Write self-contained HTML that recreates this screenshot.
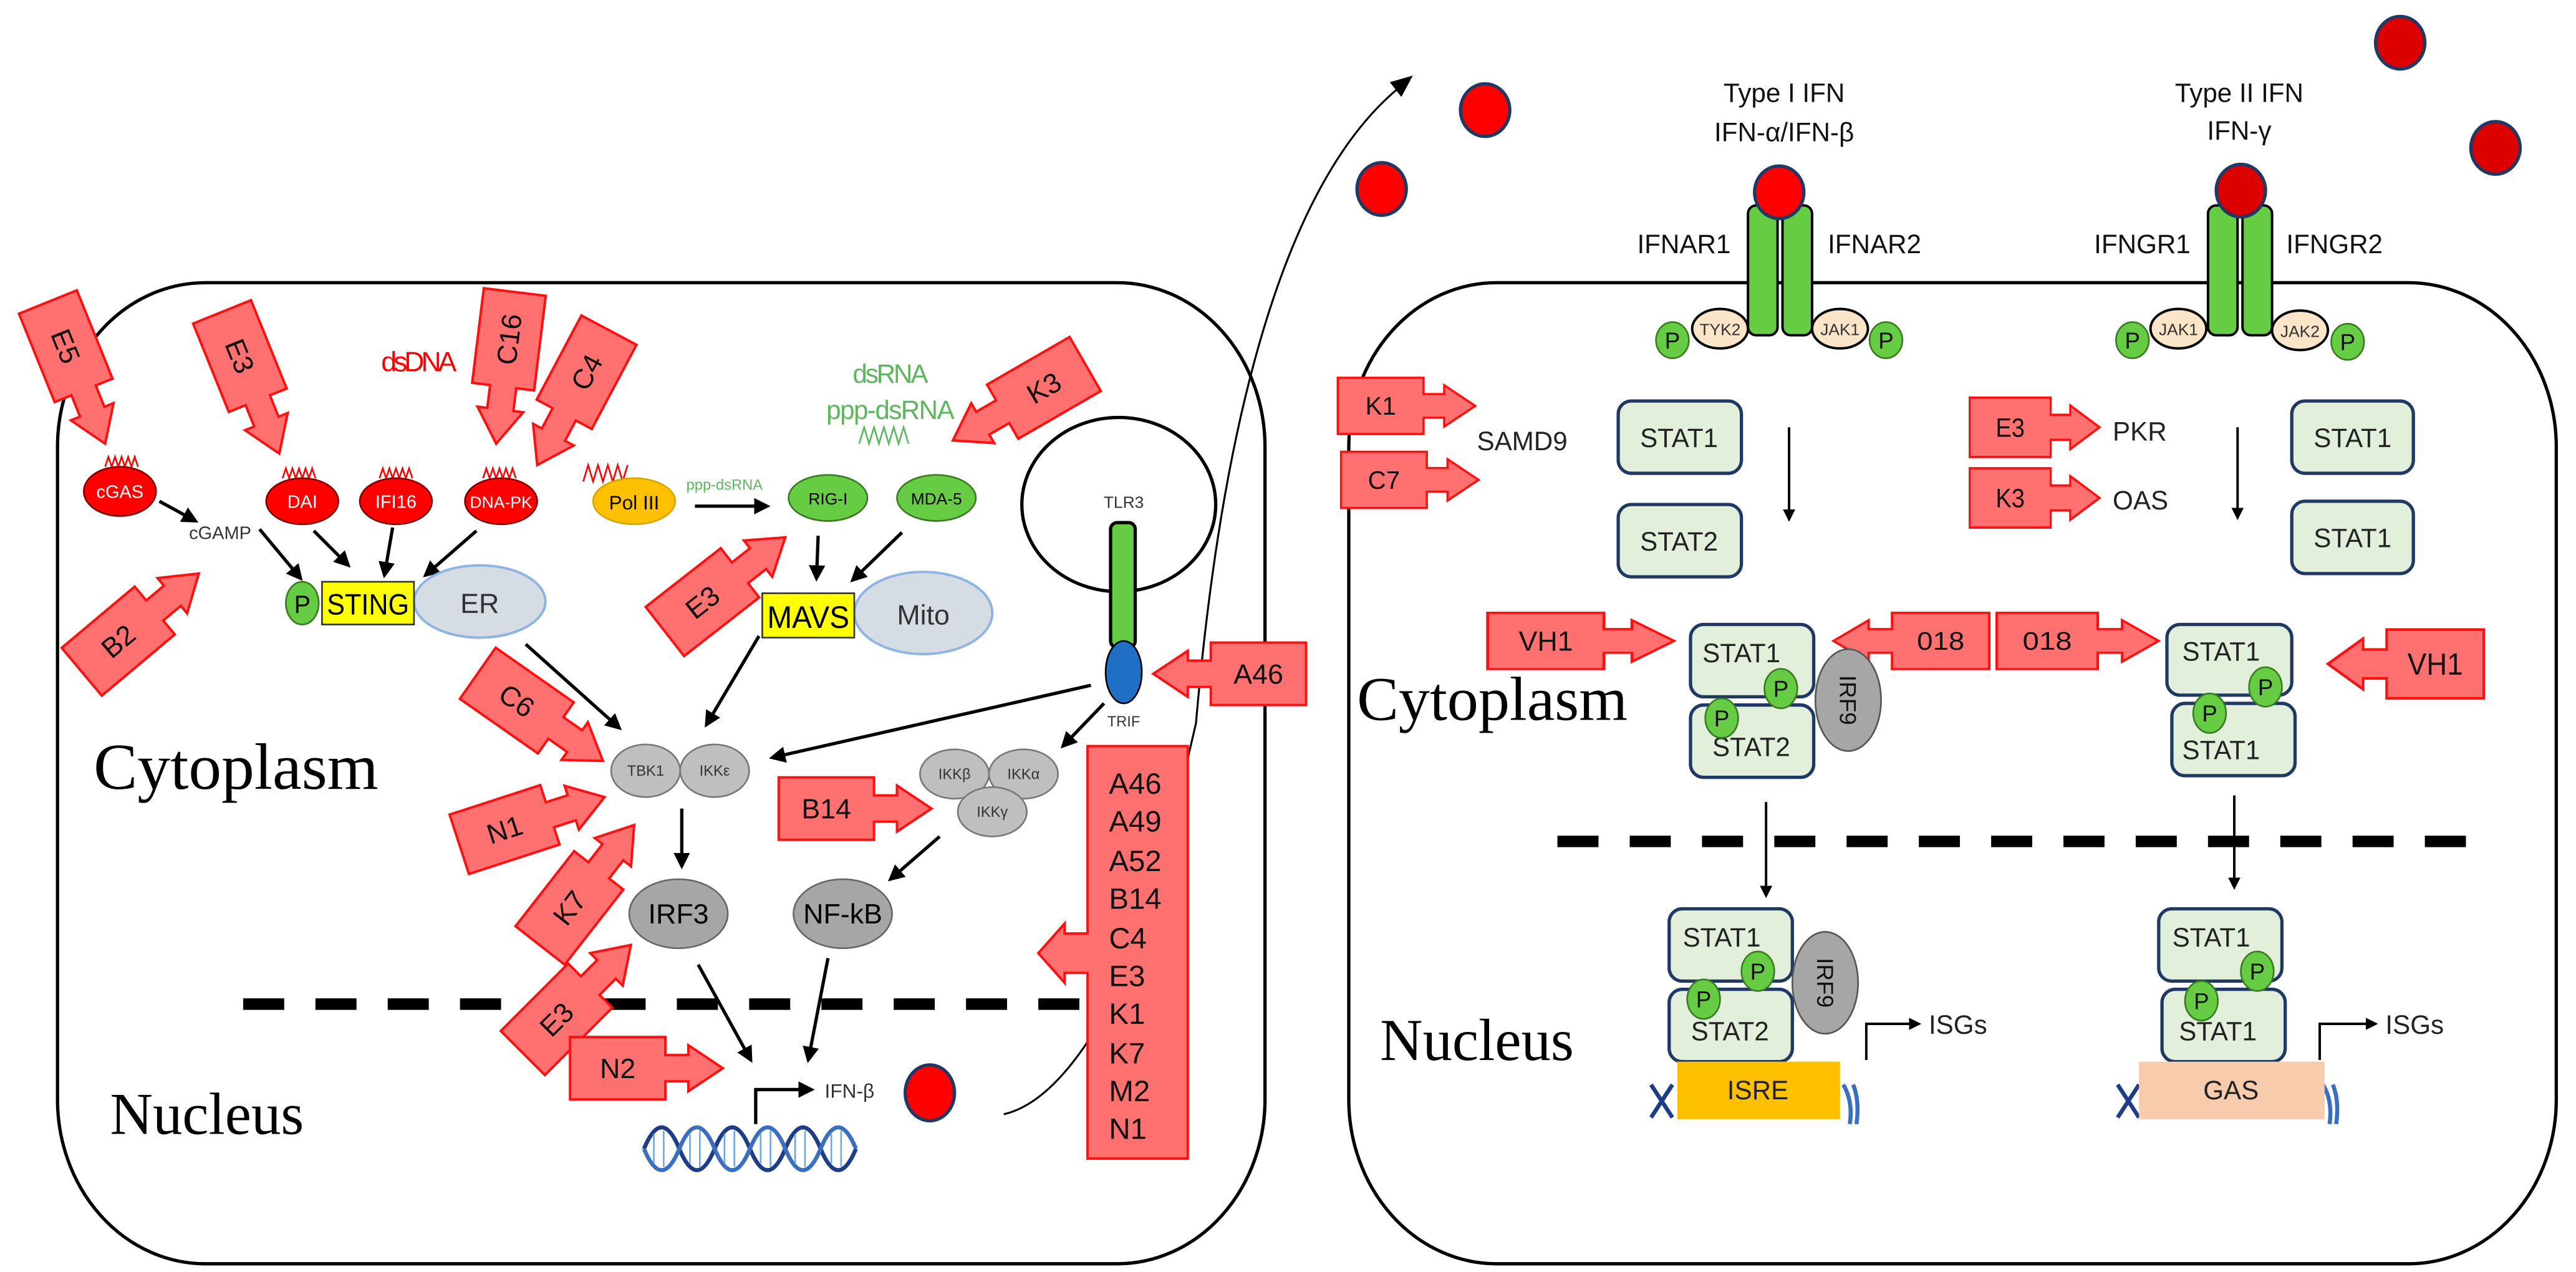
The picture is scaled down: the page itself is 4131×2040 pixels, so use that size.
<!DOCTYPE html>
<html><head><meta charset="utf-8"><style>
html,body{margin:0;padding:0;background:#fff;}
svg{display:block;}
text{font-family:"Liberation Sans Narrow","Liberation Sans",sans-serif;}
.serif{font-family:"Liberation Serif",serif;}
</style></head><body>
<svg width="4131" height="2040" viewBox="0 0 1568 774" preserveAspectRatio="none" xmlns="http://www.w3.org/2000/svg">
<defs>
<path id="ra" d="M-93,-19 H-35 V-8 H-21 V-14 L0,0 L-21,14 V8 H-35 V19 H-93 Z" fill="#ff7070" stroke="#ff1010" stroke-width="1.5"/>
<marker id="ah" viewBox="0 0 10 10" refX="8" refY="5" markerWidth="5" markerHeight="5" orient="auto"><path d="M0,0 L10,5 L0,10 Z" fill="#000"/></marker>
</defs>
<rect width="1568" height="774" fill="#fff"/>

<rect x="35" y="172" width="735" height="597" rx="90" ry="100" fill="none" stroke="#000" stroke-width="2"/>
<rect x="821" y="172" width="735" height="597" rx="90" ry="100" fill="none" stroke="#000" stroke-width="2"/>

<text class="serif" x="57" y="480" font-size="40">Cytoplasm</text>
<text class="serif" x="67" y="690" font-size="36">Nucleus</text>
<text class="serif" x="826" y="438" font-size="38">Cytoplasm</text>
<text class="serif" x="840" y="645" font-size="36">Nucleus</text>

<line x1="148" y1="611" x2="660" y2="611" stroke="#000" stroke-width="7" stroke-dasharray="25,19"/>
<line x1="948" y1="512" x2="1505" y2="512" stroke="#000" stroke-width="7" stroke-dasharray="25,19"/>

<text x="232" y="226" font-size="17" fill="#ff0000" textLength="46">dsDNA</text>
<text x="519" y="233" font-size="16" fill="#5cb85c" textLength="46">dsRNA</text>
<text x="503" y="255" font-size="16" fill="#5cb85c" textLength="78">ppp-dsRNA</text>
<polyline points="523,270 526,260 529,270 532,260 535,270 538,260 541,270 544,260 547,270 550,260 553,270" fill="none" stroke="#5cb85c" stroke-width="1"/>
<g fill="none" stroke="#ff0000" stroke-width="1">
<polyline points="64,284 66,278 68,284 70,278 72,284 74,278 76,284 78,278 80,284 82,278 84,284"/>
<polyline points="172,291 174,285 176,291 178,285 180,291 182,285 184,291 186,285 188,291 190,285 192,291"/>
<polyline points="231,291 233,285 235,291 237,285 239,291 241,285 243,291 245,285 247,291 249,285 251,291"/>
<polyline points="294,291 296,285 298,291 300,285 302,291 304,285 306,291 308,285 310,291 312,285 314,291"/>
<polyline points="355,293 358,283 361,293 364,283 367,293 370,283 373,293 376,283 379,293 382,283"/>
</g>

<g stroke="#7f0000" stroke-width="1">
<ellipse cx="73" cy="299" rx="22" ry="15" fill="#ff0000"/>
<ellipse cx="184" cy="305" rx="22" ry="14" fill="#ff0000"/>
<ellipse cx="241" cy="305" rx="22" ry="14" fill="#ff0000"/>
<ellipse cx="305" cy="305" rx="22" ry="14" fill="#ff0000"/>
</g>
<ellipse cx="386" cy="305" rx="25" ry="14" fill="#ffc000" stroke="#d9a300"/>
<ellipse cx="504" cy="303" rx="24" ry="14" fill="#66cc44" stroke="#3a7a20"/>
<ellipse cx="570" cy="303" rx="24" ry="14" fill="#66cc44" stroke="#3a7a20"/>
<g font-size="11" fill="#fff" text-anchor="middle">
<text x="73" y="303">cGAS</text><text x="184" y="309">DAI</text><text x="241" y="309">IFI16</text><text x="305" y="309" font-size="10" textLength="38">DNA-PK</text>
</g>
<text x="386" y="310" font-size="12" text-anchor="middle">Pol III</text>
<text x="504" y="307" font-size="10" text-anchor="middle">RIG-I</text>
<text x="570" y="307" font-size="10" text-anchor="middle">MDA-5</text>
<text x="134" y="328" font-size="11" fill="#333" text-anchor="middle">cGAMP</text>
<text x="441" y="298" font-size="9" fill="#5cb85c" text-anchor="middle">ppp-dsRNA</text>

<g stroke="#000" stroke-width="2" fill="none" marker-end="url(#ah)">
<line x1="423" y1="308" x2="467" y2="308"/>
<line x1="97" y1="305" x2="119" y2="317"/>
<line x1="158" y1="322" x2="183" y2="352"/>
<line x1="191" y1="323" x2="212" y2="344"/>
<line x1="239" y1="321" x2="234" y2="350"/>
<line x1="290" y1="323" x2="259" y2="350"/>
<line x1="498" y1="326" x2="497" y2="352"/>
<line x1="549" y1="324" x2="519" y2="353"/>
<line x1="320" y1="392" x2="377" y2="443"/>
<line x1="462" y1="387" x2="430" y2="441"/>
<line x1="664" y1="417" x2="470" y2="461"/>
<line x1="672" y1="428" x2="647" y2="454"/>
<line x1="415" y1="492" x2="415" y2="527"/>
<line x1="572" y1="509" x2="542" y2="535"/>
<line x1="425" y1="587" x2="457" y2="645"/>
<line x1="504" y1="583" x2="492" y2="645"/>
</g>

<ellipse cx="292" cy="366" rx="40" ry="22" fill="#d6dce4" stroke="#8eb4e3" stroke-width="1.5"/>
<text x="292" y="373" font-size="17" text-anchor="middle" fill="#333">ER</text>
<ellipse cx="184" cy="367" rx="10" ry="13" fill="#66cc44" stroke="#3a7a20"/>
<text x="184" y="373" font-size="15" text-anchor="middle">P</text>
<rect x="196" y="354" width="56" height="26" fill="#ffff00" stroke="#333"/>
<text x="199" y="374" font-size="18" textLength="50" lengthAdjust="spacingAndGlyphs">STING</text>
<ellipse cx="562" cy="373" rx="42" ry="25" fill="#d6dce4" stroke="#8eb4e3" stroke-width="1.5"/>
<text x="562" y="380" font-size="17" text-anchor="middle" fill="#333">Mito</text>
<rect x="464" y="361" width="56" height="27" fill="#ffff00" stroke="#333"/>
<text x="467" y="382" font-size="19" textLength="50" lengthAdjust="spacingAndGlyphs">MAVS</text>

<ellipse cx="681" cy="307" rx="59" ry="53" fill="none" stroke="#000" stroke-width="2"/>
<text x="684" y="309" font-size="10" text-anchor="middle" fill="#333">TLR3</text>
<rect x="676" y="318" width="15" height="76" rx="4" fill="#66cc44" stroke="#000" stroke-width="2"/>
<ellipse cx="684" cy="409" rx="11" ry="19" fill="#1f6fc5" stroke="#000"/>
<text x="684" y="442" font-size="9" text-anchor="middle" fill="#333">TRIF</text>

<g fill="#bfbfbf" stroke="#777">
<ellipse cx="393" cy="469" rx="21" ry="16"/><ellipse cx="435" cy="469" rx="21" ry="16"/>
<ellipse cx="581" cy="471" rx="21" ry="15"/><ellipse cx="623" cy="471" rx="21" ry="15"/>
<ellipse cx="604" cy="494" rx="21" ry="15"/>
</g>
<g font-size="9" text-anchor="middle" fill="#333">
<text x="393" y="472">TBK1</text><text x="435" y="472">IKKε</text>
<text x="581" y="474">IKKβ</text><text x="623" y="474">IKKα</text><text x="604" y="497">IKKγ</text>
</g>
<ellipse cx="413" cy="556" rx="30" ry="21" fill="#a6a6a6" stroke="#666"/>
<ellipse cx="513" cy="556" rx="30" ry="21" fill="#a6a6a6" stroke="#666"/>
<text x="413" y="562" font-size="17" text-anchor="middle">IRF3</text>
<text x="513" y="562" font-size="17" text-anchor="middle">NF-kB</text>

<path d="M460,684 V663 H494" fill="none" stroke="#000" stroke-width="2" marker-end="url(#ah)"/>
<text x="502" y="668" font-size="12" fill="#333">IFN-β</text>
<ellipse cx="566" cy="665" rx="15" ry="17" fill="#ff0000" stroke="#1f3864" stroke-width="2"/>
<g fill="none" stroke="#1f3c88" stroke-width="2.5">
<path d="M392,699 q10.75,-26 21.5,0 t21.5,0 t21.5,0 t21.5,0 t21.5,0 t21.5,0"/>
<path d="M392,699 q10.75,26 21.5,0 t21.5,0 t21.5,0 t21.5,0 t21.5,0 t21.5,0" stroke="#3a6fc0"/>
</g>
<g stroke="#6fa8dc" stroke-width="1">
<line x1="398" y1="690" x2="398" y2="708"/><line x1="404" y1="688" x2="404" y2="710"/><line x1="420" y1="690" x2="420" y2="708"/><line x1="426" y1="688" x2="426" y2="710"/>
<line x1="441" y1="690" x2="441" y2="708"/><line x1="447" y1="688" x2="447" y2="710"/><line x1="463" y1="690" x2="463" y2="708"/><line x1="469" y1="688" x2="469" y2="710"/>
<line x1="484" y1="690" x2="484" y2="708"/><line x1="490" y1="688" x2="490" y2="710"/><line x1="506" y1="690" x2="506" y2="708"/><line x1="512" y1="688" x2="512" y2="710"/>
</g>

<path d="M611,678 Q655,668 700,560 L728,440 C740,300 770,120 852,53" fill="none" stroke="#000" stroke-width="1.2"/>
<path d="M860,46 L846,50 L853,59 Z" fill="#000"/>

<path d="M662,454 H723 V705 H662 V592 H648 V598 L632,580 L648,562 V568 H662 Z" fill="#ff7070" stroke="#ff1010" stroke-width="1.5"/>
<g font-size="18" fill="#111">
<text x="675" y="483">A46</text><text x="675" y="506">A49</text><text x="675" y="530">A52</text><text x="675" y="553">B14</text>
<text x="675" y="577">C4</text><text x="675" y="600">E3</text><text x="675" y="623">K1</text><text x="675" y="647">K7</text>
<text x="675" y="670">M2</text><text x="675" y="693">N1</text>
</g>

<g font-size="17" fill="#111" text-anchor="middle">
<g transform="translate(64,270) rotate(68)"><use href="#ra"/><text x="-64" y="6">E5</text></g>
<g transform="translate(170,276) rotate(68)"><use href="#ra"/><text x="-64" y="6">E3</text></g>
<g transform="translate(302,270) rotate(97)"><use href="#ra"/><text x="-64" y="6" transform="rotate(180 -64 0)">C16</text></g>
<g transform="translate(327,283) rotate(118)"><use href="#ra"/><text x="-64" y="6" transform="rotate(180 -64 0)">C4</text></g>
<g transform="translate(580,268) rotate(150)"><use href="#ra"/><text x="-64" y="6" transform="rotate(180 -64 0)">K3</text></g>
<g transform="translate(121,349) rotate(-40)"><use href="#ra"/><text x="-64" y="6">B2</text></g>
<g transform="translate(478,327) rotate(-38)"><use href="#ra"/><text x="-64" y="6">E3</text></g>
<g transform="translate(702,410) rotate(180)"><use href="#ra"/><text x="-64" y="6" transform="rotate(180 -64 0)">A46</text></g>
<g transform="translate(367,463) rotate(35)"><use href="#ra"/><text x="-64" y="6">C6</text></g>
<g transform="translate(368,485) rotate(-18)"><use href="#ra"/><text x="-64" y="6">N1</text></g>
<g transform="translate(386,502) rotate(-52)"><use href="#ra"/><text x="-64" y="6">K7</text></g>
<g transform="translate(384,575) rotate(-45)"><use href="#ra"/><text x="-64" y="6">E3</text></g>
<g transform="translate(567,492)"><use href="#ra"/><text x="-64" y="6">B14</text></g>
<g transform="translate(440,650)"><use href="#ra"/><text x="-64" y="6">N2</text></g>
<g transform="translate(898,247) scale(0.9)"><use href="#ra"/><text x="-64" y="6">K1</text></g>
<g transform="translate(900,292) scale(0.9)"><use href="#ra"/><text x="-64" y="6">C7</text></g>
<g transform="translate(1278,260) scale(0.85,0.95)"><use href="#ra"/><text x="-64" y="6">E3</text></g>
<g transform="translate(1278,303) scale(0.85,0.95)"><use href="#ra"/><text x="-64" y="6">K3</text></g>
<g transform="translate(1019,390) scale(1.22,0.9)"><use href="#ra"/><text x="-64" y="6" transform="scale(0.82,1.1)" dx="-14">VH1</text></g>
<g transform="translate(1116,390) rotate(180) scale(1.02,0.9)"><use href="#ra"/><text x="-64" y="6" transform="rotate(180 -64 0)">018</text></g>
<g transform="translate(1314,390) scale(1.06,0.9)"><use href="#ra"/><text x="-64" y="6">018</text></g>
<g transform="translate(1417,404) rotate(180) scale(1.02,1.1)"><use href="#ra"/><text x="-64" y="6" transform="rotate(180 -64 0)">VH1</text></g>
</g>

<g stroke="#1f3864" stroke-width="2">
<ellipse cx="904" cy="67" rx="15" ry="16" fill="#ff0000"/>
<ellipse cx="841" cy="115" rx="15" ry="16" fill="#ff0000"/>
<ellipse cx="1461" cy="26" rx="15" ry="16" fill="#dd0000"/>
<ellipse cx="1519" cy="90" rx="15" ry="16" fill="#dd0000"/>
</g>
<g font-size="16" text-anchor="middle" fill="#111">
<text x="1086" y="62">Type I IFN</text><text x="1086" y="86">IFN-α/IFN-β</text>
<text x="1363" y="62">Type II IFN</text><text x="1363" y="85">IFN-γ</text>
<text x="1025" y="154">IFNAR1</text><text x="1141" y="154">IFNAR2</text>
<text x="1304" y="154">IFNGR1</text><text x="1421" y="154">IFNGR2</text>
</g>

<g fill="#66cc44" stroke="#000" stroke-width="1.5">
<rect x="1064" y="125" width="18" height="79" rx="5"/><rect x="1085" y="125" width="18" height="79" rx="5"/>
<rect x="1344" y="125" width="18" height="79" rx="5"/><rect x="1365" y="125" width="18" height="79" rx="5"/>
</g>
<g stroke="#1f3864" stroke-width="2">
<ellipse cx="1083" cy="117" rx="15" ry="16" fill="#ff0000"/>
<ellipse cx="1364" cy="116" rx="15" ry="16" fill="#dd0000"/>
</g>
<g fill="#fbe5c8" stroke="#000" stroke-width="1.5">
<ellipse cx="1047" cy="200" rx="17" ry="12"/><ellipse cx="1120" cy="200" rx="17" ry="12"/>
<ellipse cx="1326" cy="200" rx="17" ry="12"/><ellipse cx="1400" cy="201" rx="17" ry="12"/>
</g>
<g font-size="10" text-anchor="middle" fill="#333">
<text x="1047" y="204">TYK2</text><text x="1120" y="204">JAK1</text><text x="1326" y="204">JAK1</text><text x="1400" y="205">JAK2</text>
</g>

<g fill="#e2efda" stroke="#1f3864" stroke-width="2">
<rect x="985" y="244" width="75" height="44" rx="8"/><rect x="985" y="307" width="75" height="44" rx="8"/>
<rect x="1395" y="244" width="74" height="44" rx="8"/><rect x="1395" y="305" width="74" height="44" rx="8"/>
<rect x="1029" y="380" width="75" height="44" rx="8"/><rect x="1029" y="429" width="75" height="44" rx="8"/>
<rect x="1319" y="380" width="76" height="43" rx="8"/><rect x="1322" y="428" width="75" height="44" rx="8"/>
<rect x="1016" y="553" width="75" height="44" rx="8"/><rect x="1016" y="602" width="75" height="44" rx="8"/>
<rect x="1314" y="553" width="75" height="44" rx="8"/><rect x="1316" y="602" width="75" height="44" rx="8"/>
</g>
<g fill="#a6a6a6" stroke="#555">
<ellipse cx="1125" cy="426" rx="20" ry="31"/>
<ellipse cx="1111" cy="598" rx="20" ry="31"/>
</g>
<text font-size="14" fill="#111" text-anchor="middle" transform="translate(1120,426) rotate(90)">IRF9</text>
<text font-size="14" fill="#111" text-anchor="middle" transform="translate(1106,598) rotate(90)">IRF9</text>
<g font-size="16" text-anchor="middle" fill="#222">
<text x="1022" y="272">STAT1</text><text x="1022" y="335">STAT2</text>
<text x="1432" y="272">STAT1</text><text x="1432" y="333">STAT1</text>
<text x="1060" y="403">STAT1</text><text x="1066" y="460">STAT2</text>
<text x="1352" y="402">STAT1</text><text x="1352" y="462">STAT1</text>
<text x="1048" y="576">STAT1</text><text x="1053" y="633">STAT2</text>
<text x="1346" y="576">STAT1</text><text x="1350" y="633">STAT1</text>
</g>
<g fill="#66cc44" stroke="#3a7a20">
<ellipse cx="1018" cy="207" rx="10" ry="11"/><ellipse cx="1148" cy="207" rx="10" ry="11"/>
<ellipse cx="1298" cy="207" rx="10" ry="11"/><ellipse cx="1429" cy="208" rx="10" ry="11"/>
<ellipse cx="1084" cy="419" rx="10" ry="12"/><ellipse cx="1048" cy="437" rx="10" ry="12"/>
<ellipse cx="1379" cy="418" rx="10" ry="12"/><ellipse cx="1345" cy="434" rx="10" ry="12"/>
<ellipse cx="1070" cy="591" rx="10" ry="12"/><ellipse cx="1037" cy="608" rx="10" ry="12"/>
<ellipse cx="1374" cy="591" rx="10" ry="12"/><ellipse cx="1340" cy="609" rx="10" ry="12"/>
</g>
<g font-size="14" text-anchor="middle" fill="#111">
<text x="1018" y="212">P</text><text x="1148" y="212">P</text><text x="1298" y="212">P</text><text x="1429" y="213">P</text>
<text x="1084" y="424">P</text><text x="1048" y="442">P</text><text x="1379" y="423">P</text><text x="1345" y="439">P</text>
<text x="1070" y="596">P</text><text x="1037" y="613">P</text><text x="1374" y="596">P</text><text x="1340" y="614">P</text>
</g>

<g font-size="16" fill="#222">
<text x="899" y="274">SAMD9</text><text x="1286" y="268">PKR</text><text x="1286" y="310">OAS</text>
</g>

<g stroke="#000" stroke-width="1.5" fill="none" marker-end="url(#ah)">
<line x1="1089" y1="260" x2="1089" y2="316"/>
<line x1="1362" y1="260" x2="1362" y2="315"/>
<line x1="1075" y1="488" x2="1075" y2="545"/>
<line x1="1360" y1="484" x2="1360" y2="540"/>
</g>

<g stroke="#1f3c88" stroke-width="2.5" fill="none">
<path d="M1005,660 L1018,680 M1005,680 L1018,660"/>
<path d="M1122,660 q6,10 4,24 M1128,660 q4,10 2,24" stroke="#3a6fc0"/>
<path d="M1289,660 L1302,680 M1289,680 L1302,660"/>
<path d="M1414,660 q6,10 4,24 M1420,660 q4,10 2,24" stroke="#3a6fc0"/>
</g>
<rect x="1021" y="646" width="99" height="35" fill="#ffc000"/>
<text x="1070" y="669" font-size="16" text-anchor="middle" fill="#222">ISRE</text>
<rect x="1302" y="646" width="113" height="35" fill="#f8cbad"/>
<text x="1358" y="669" font-size="16" text-anchor="middle" fill="#222">GAS</text>
<path d="M1136,645 V623 H1168" fill="none" stroke="#000" stroke-width="1.5" marker-end="url(#ah)"/>
<text x="1174" y="629" font-size="16" fill="#222">ISGs</text>
<path d="M1412,645 V623 H1446" fill="none" stroke="#000" stroke-width="1.5" marker-end="url(#ah)"/>
<text x="1452" y="629" font-size="16" fill="#222">ISGs</text>
</svg>
</body></html>
